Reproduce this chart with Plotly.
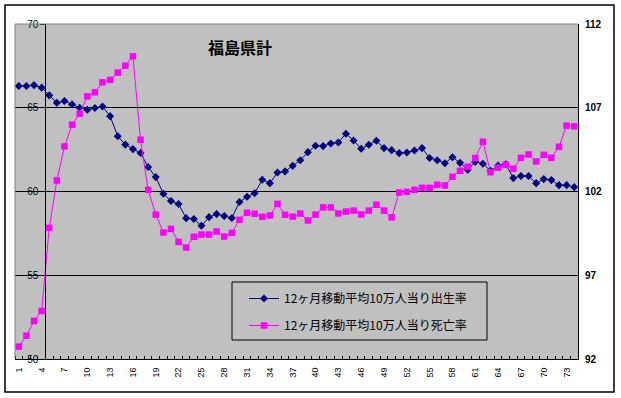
import plotly.graph_objects as go

# ---- data ----
months = list(range(1, 75))
tick_labels = [str(v) for v in range(1, 75, 3)]

birth_rate = [66.3, 66.3, 66.35, 66.2, 65.74, 65.3, 65.4, 65.2, 65.0, 64.88,
              64.98, 65.08, 64.5, 63.3, 62.8, 62.53, 62.3, 61.46, 60.86, 59.87,
              59.43, 59.25, 58.41, 58.36, 57.95, 58.47, 58.65, 58.54, 58.42, 59.37,
              59.69, 59.9, 60.7, 60.5, 61.13, 61.2, 61.53, 61.87, 62.35, 62.73,
              62.71, 62.87, 62.93, 63.45, 63.05, 62.55, 62.79, 63.03, 62.59, 62.47,
              62.29, 62.33, 62.45, 62.59, 62.0, 61.87, 61.69, 62.05, 61.71, 61.3,
              61.77, 61.66, 61.24, 61.55, 61.63, 60.8, 60.92, 60.92, 60.5, 60.74,
              60.68, 60.38, 60.38, 60.26]

death_rate = [92.74, 93.39, 94.27, 94.87, 99.83, 102.66, 104.69, 105.99, 106.64, 107.68,
              107.92, 108.52, 108.66, 109.1, 109.51, 110.07, 105.09, 102.1, 100.62, 99.55,
              99.77, 98.99, 98.65, 99.3, 99.43, 99.43, 99.61, 99.31, 99.53, 100.31,
              100.73, 100.67, 100.49, 100.57, 101.26, 100.61, 100.5, 100.68, 100.27, 100.62,
              101.05, 101.05, 100.69, 100.8, 100.86, 100.63, 100.86, 101.21, 100.86, 100.45,
              101.94, 101.98, 102.1, 102.22, 102.22, 102.4, 102.36, 102.88, 103.24, 103.48,
              104.0, 104.97, 103.15, 103.42, 103.6, 103.36, 104.01, 104.21, 103.79, 104.19,
              104.01, 104.67, 105.93, 105.89]

birth_name = "12ヶ月移動平均10万人当り出生率"
death_name = "12ヶ月移動平均10万人当り死亡率"
title_text = "福島県計"

# ---- layout geometry ----
W, H = 621, 398
ML, MR, MT, MB = 15, 43, 24, 39
PW, PH = W - ML - MR, H - MT - MB


def px_x(p):
    return (p - ML) / PW


def px_y(p):
    return (H - MB - p) / PH


fig = go.Figure()

fig.add_trace(go.Scatter(
    x=months, y=birth_rate, name=birth_name, mode="lines+markers",
    line=dict(color="#000080", width=1),
    marker=dict(symbol="diamond", size=6.2, color="#000080"),
    legendgroup="a", yaxis="y"))

fig.add_trace(go.Scatter(
    x=months, y=death_rate, name=death_name, mode="lines+markers",
    line=dict(color="#FF00FF", width=1),
    marker=dict(symbol="square", size=6.5, color="#FF00FF"),
    legendgroup="b", yaxis="y2"))

fig.update_layout(
    width=W, height=H,
    margin=dict(l=ML, r=MR, t=MT, b=MB, pad=0),
    paper_bgcolor="white",
    plot_bgcolor="#C0C0C0",
    font=dict(family="Liberation Sans, Arial", color="black"),
    showlegend=True,
    legend=dict(
        x=px_x(244), y=px_y(284), xanchor="left", yanchor="top",
        bgcolor="rgba(0,0,0,0)", borderwidth=0,
        font=dict(family="Noto Sans CJK JP", size=12, color="black"),
        tracegroupgap=8, itemwidth=30),
    xaxis=dict(
        range=[0.5, 74.5], tickmode="array",
        tickvals=list(range(1, 75, 3)), ticktext=tick_labels,
        tickangle=-90, tickfont=dict(size=9, color="black"),
        ticks="", ticklabelstandoff=4, showgrid=False, zeroline=False,
        showline=True, linecolor="black", linewidth=1,
        minor=dict(ticks="inside", ticklen=3, tick0=0.5, dtick=1,
                   tickcolor="black", showgrid=False)),
    yaxis=dict(
        range=[50, 70], dtick=5, tick0=50,
        anchor="free", position=4 / 74, side="left",
        showline=True, linecolor="black", linewidth=1,
        ticks="outside", ticklen=5, tickcolor="black",
        tickfont=dict(size=10, color="black"),
        showgrid=True, gridcolor="black", gridwidth=1,
        zeroline=False),
    yaxis2=dict(
        range=[92, 112], dtick=5, tick0=92,
        overlaying="y", side="right", anchor="x",
        showline=True, linecolor="black", linewidth=1,
        ticks="inside", ticklen=4, tickcolor="black",
        ticklabelstandoff=4,
        tickfont=dict(size=10, color="black", family="Liberation Sans, Arial", weight="bold"),
        showgrid=False, zeroline=False),
    annotations=[dict(
        text=title_text, xref="paper", yref="paper",
        x=px_x(240), y=px_y(47), xanchor="center", yanchor="middle",
        showarrow=False,
        font=dict(family="Noto Sans CJK JP", size=16, color="black", weight="bold"))],
    shapes=[
        # outer chart border
        dict(type="rect", xref="paper", yref="paper",
             x0=px_x(5), x1=px_x(614), y0=px_y(392), y1=px_y(5),
             line=dict(color="black", width=1.5), layer="below"),
        # top plot-area edge (gray)
        dict(type="line", xref="paper", yref="paper",
             x0=0, x1=1, y0=1, y1=1,
             line=dict(color="#808080", width=1), layer="above"),
        # left plot-area edge (gray)
        dict(type="line", xref="paper", yref="paper",
             x0=0, x1=0, y0=0, y1=1,
             line=dict(color="#808080", width=1), layer="above"),
        # legend box
        dict(type="rect", xref="paper", yref="paper",
             x0=px_x(232), x1=px_x(487), y0=px_y(340), y1=px_y(282),
             line=dict(color="black", width=1), fillcolor="#C0C0C0", layer="above"),
    ],
)

fig.write_html("out.html", config={"displayModeBar": False},
               post_script="document.body.style.margin='0';")
